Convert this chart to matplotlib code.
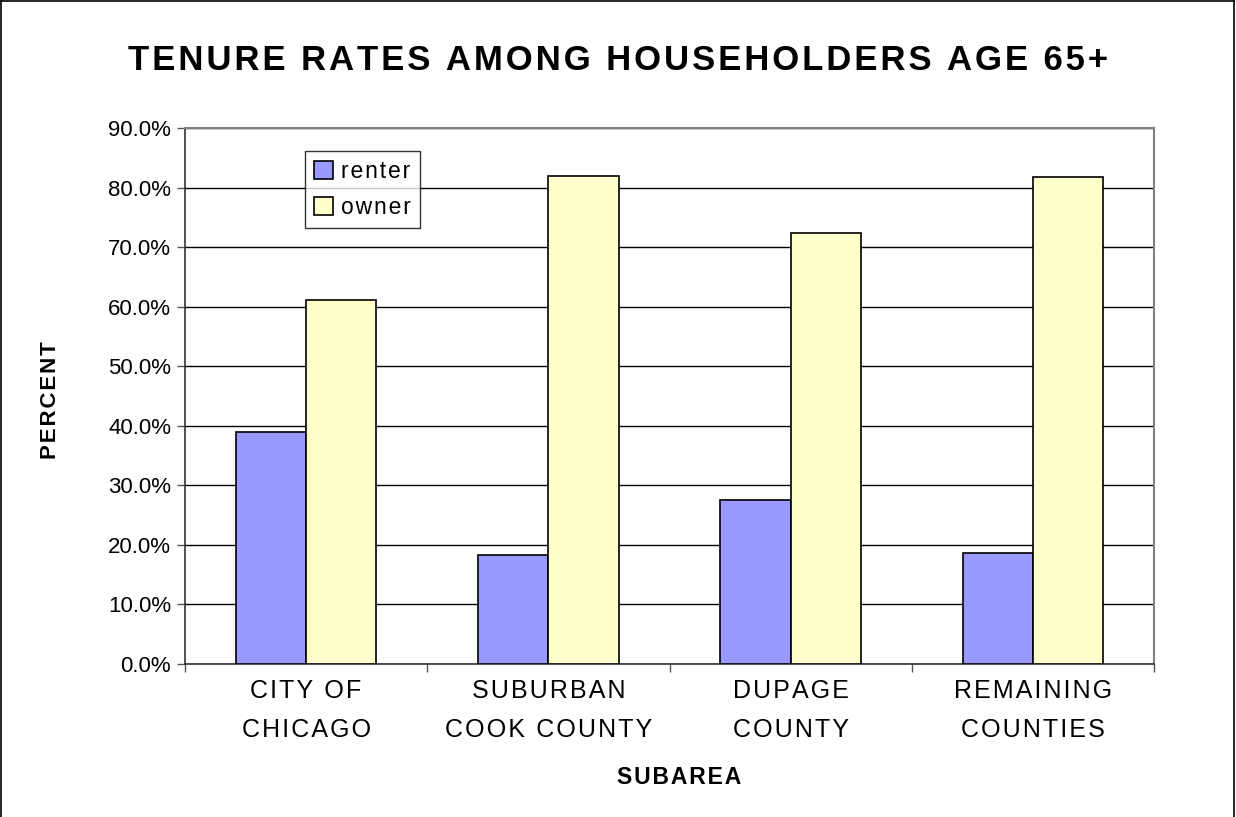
import numpy as np
import matplotlib
matplotlib.use("Agg")
import matplotlib.pyplot as plt
from matplotlib.lines import Line2D
from matplotlib.ticker import FuncFormatter, FixedLocator

plt.rcParams['font.family'] = ['Liberation Sans', 'DejaVu Sans']

subareas = ["CITY OF\nCHICAGO", "SUBURBAN\nCOOK COUNTY", "DUPAGE\nCOUNTY", "REMAINING\nCOUNTIES"]
renter = [39.0, 18.3, 27.5, 18.6]
owner = [61.1, 82.0, 72.4, 81.7]


def spaced(s, gap="\u200a"):
    # the source chart is drawn with loose letter spacing
    return "\n".join(gap.join(line) for line in s.split("\n"))


fig = plt.figure(figsize=(12.36, 8.17), dpi=100)
ax = fig.add_axes([185 / 1236, 1 - 664 / 817, (1154 - 185) / 1236, (664 - 128) / 817])

x = np.arange(len(subareas))
w = 0.29
ax.bar(x - w / 2, renter, w, color="#9999FF", edgecolor="black", linewidth=1.2,
       label=spaced("renter"), zorder=3)
ax.bar(x + w / 2, owner, w, color="#FFFFCC", edgecolor="black", linewidth=1.2,
       label=spaced("owner"), zorder=3)

ax.set_xlim(-0.5, 3.5)
ax.set_ylim(0, 90)
ax.set_yticks(np.arange(0, 91, 10))
ax.yaxis.set_major_formatter(FuncFormatter(lambda v, p: f"{v:.1f}%"))
ax.yaxis.grid(True, color="black", linewidth=1.0, zorder=0)
ax.set_axisbelow(True)

ax.set_xticks(x)
ax.set_xticklabels([spaced(s) for s in subareas], fontsize=18, linespacing=1.8)
ax.xaxis.set_minor_locator(FixedLocator(np.arange(-0.5, 4, 1)))
ax.tick_params(axis="x", which="major", length=0, pad=11)
ax.tick_params(axis="x", which="minor", length=6, width=1, color="#555555", direction="out")
ax.tick_params(axis="y", length=6, width=1, color="#555555", labelsize=16, pad=4)

for s in ["top", "right"]:
    ax.spines[s].set_color("#808080")
    ax.spines[s].set_linewidth(1.5)
for s in ["left", "bottom"]:
    ax.spines[s].set_color("#333333")
    ax.spines[s].set_linewidth(1.2)

fig.text(50 / 1236, 1 - 400 / 817, spaced("PERCENT"), rotation=90, ha="center", va="center",
         fontsize=16, fontweight="bold")
fig.text(679 / 1236, 1 - 778 / 817, spaced("SUBAREA"), ha="center", va="center",
         fontsize=16.5, fontweight="bold")

fig.text(618 / 1236, 1 - 60 / 817, spaced("TENURE RATES AMONG HOUSEHOLDERS AGE 65+"),
         ha="center", va="center", fontsize=25, fontweight="bold")

leg = ax.legend(loc="upper left", bbox_to_anchor=((305 - 185) / 969, 1 - (151 - 128) / 536),
                fontsize=16.5, frameon=True, fancybox=False, edgecolor="black",
                handlelength=0.8, handleheight=0.8, handletextpad=0.35,
                borderpad=0.4, labelspacing=0.55, borderaxespad=0)
leg.get_frame().set_linewidth(1.0)

# figure border (left, top, right)
fig.add_artist(Line2D([0.001, 0.001], [0, 0.999], color="black", linewidth=1.2, transform=fig.transFigure))
fig.add_artist(Line2D([0.001, 0.998], [0.999, 0.999], color="black", linewidth=1.2, transform=fig.transFigure))
fig.add_artist(Line2D([0.998, 0.998], [0, 0.999], color="black", linewidth=1.2, transform=fig.transFigure))

fig.savefig("out.png", dpi=100)
